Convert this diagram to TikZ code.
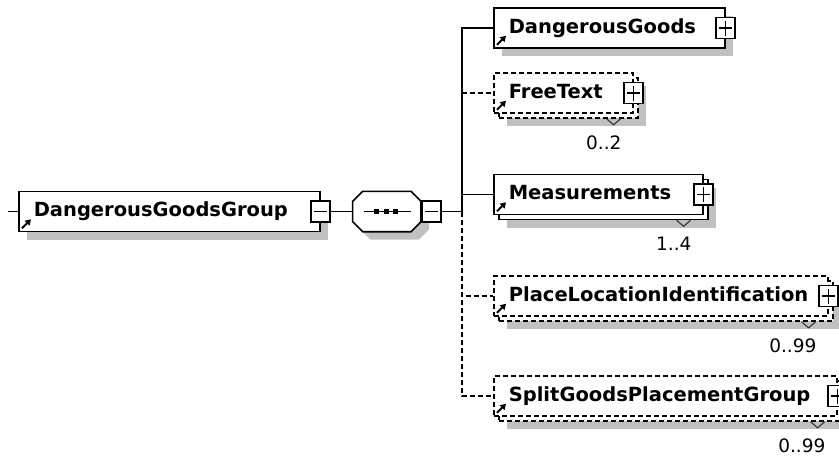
\documentclass[tikz,border=0pt]{standalone}
\usepackage{fontspec}
\setmainfont{DejaVu Sans}
\usepackage{xcolor}
\usetikzlibrary{shadows, arrows.meta, positioning, calc}

\definecolor{shadowgray}{RGB}{192,192,192}

\begin{document}
\begin{tikzpicture}[
    x=1pt, y=-1pt,
    element/.style={rectangle, draw=black, fill=white, line width=1.6pt, minimum height=40pt, inner xsep=15pt, inner ysep=0pt, text height=15pt, text depth=5pt, align=left, anchor=west, font=\fontsize{19.5pt}{22pt}\selectfont\bfseries},
    single/.style={general shadow={fill=shadowgray, draw=none, shadow xshift=8pt, shadow yshift=-8pt}},
    stacked/.style={general shadow={fill=shadowgray, draw=none, shadow xshift=13pt, shadow yshift=-13pt},
        general shadow={fill=white, draw=black, line width=1.6pt, shadow xshift=5pt, shadow yshift=-5pt, #1}},
    stacked/.default={},
    optional/.style={dash pattern=on 5pt off 3pt},
    seqbox/.style={rectangle, minimum width=68pt, minimum height=40pt, inner sep=0pt},
    octagon/.style={draw=black, fill=white, line width=1.6pt, single},
    btn/.style={rectangle, draw=black, fill=white, line width=1.6pt, minimum width=19pt, minimum height=21pt, inner sep=0pt},
    minusbtn/.style={btn, path picture={\draw[line width=1.1pt] ([xshift=3pt]path picture bounding box.west) -- ([xshift=-3pt]path picture bounding box.east);}},
    plusbtn/.style={btn, path picture={
        \draw[line width=1.1pt] ([xshift=3pt]path picture bounding box.west) -- ([xshift=-3pt]path picture bounding box.east);
        \draw[line width=1.1pt] ([yshift=3pt]path picture bounding box.south) -- ([yshift=-3pt]path picture bounding box.north);}},
    conn/.style={line width=1.5pt},
    refarrow/.style={line width=1.9pt, -{Triangle[length=5.5pt, width=6.5pt]}},
    vmark/.style={line width=1.1pt, draw=black!80},
    mult/.style={font=\fontsize{18.5pt}{20pt}\selectfont, inner sep=0pt, anchor=north east}
]
    \useasboundingbox (0,0) rectangle (839,456);

    % group and its sequence
    \coordinate (in) at (8,211.5);
    \node[element, single, text width=271pt] (grp) at (18,211.5) {DangerousGoodsGroup};
    \node[minusbtn] (grpbtn) at (grp.east) {};
    \node[seqbox, right=32pt of grp] (seq) {};
    \draw[octagon] ([xshift=10pt]seq.north west) -- ([xshift=-10pt]seq.north east)
        -- ([yshift=-10pt]seq.north east) -- ([yshift=10pt]seq.south east)
        -- ([xshift=-10pt]seq.south east) -- ([xshift=10pt]seq.south west)
        -- ([yshift=10pt]seq.south west) -- ([yshift=-10pt]seq.north west) -- cycle;
    \node[minusbtn, right=0pt of seq] (seqbtn) {};
    \coordinate (fork) at (462,211.5);

    % children
    \node[element, single, text width=201pt] (dg) at (493,28) {DangerousGoods};
    \node[element, stacked={optional}, optional, text width=109pt] (ft) at (493,93) {FreeText};
    \node[element, stacked, text width=179pt] (meas) at (493,194.5) {Measurements};
    \node[element, stacked={optional}, optional, text width=304pt] (pli) at (493,296) {PlaceLocationIdentification};
    \node[element, stacked={optional}, optional, text width=313pt] (sgpg) at (493,396) {SplitGoodsPlacementGroup};

    % expand buttons
    \node[plusbtn] (dgbtn) at (dg.east) {};
    \node[plusbtn] (ftbtn) at (ft.east) {};
    \node[plusbtn] (measbtn) at (meas.east) {};
    \node[plusbtn] (plibtn) at (pli.east) {};
    \node[plusbtn] (sgpgbtn) at (sgpg.east) {};

    % sequence symbol
    \draw[conn] ([xshift=-23pt]seq.center) -- ([xshift=24pt]seq.center);
    \foreach \dx in {-10,0,9}
        \fill ([xshift=\dx pt]seq.center) +(-2.5,-2.5) rectangle +(2.5,2.5);

    % reference arrows
    \foreach \n in {grp,dg,ft,meas,pli,sgpg}
        \draw[refarrow] ([xshift=4pt,yshift=4pt]\n.south west) -- ++(9,-9);

    % occurrences
    \foreach \n/\occ in {ft/0..2, meas/1..4, pli/0..99, sgpg/0..99} {
        \draw[vmark] ([xshift=-27pt,yshift=-5pt]\n.south east) -- ++(7,6) -- ++(7,-6);
        \node[mult] at ([xshift=-12pt,yshift=-22pt]\n.south east) {\occ};
    }

    % connections
    \draw[conn] (in) -- (grp.west);
    \draw[conn] (grpbtn.east) -- (seq.west);
    \draw[conn] (seqbtn.east) -- (fork);
    \draw[conn] (fork) |- (dg.west);
    \draw[conn] (fork) |- (meas.west);
    \draw[conn, optional] (fork |- ft.west) -- (ft.west);
    \draw[conn, optional] (fork) |- (pli.west);
    \draw[conn, optional] (fork) |- (sgpg.west);

\end{tikzpicture}
\end{document}
